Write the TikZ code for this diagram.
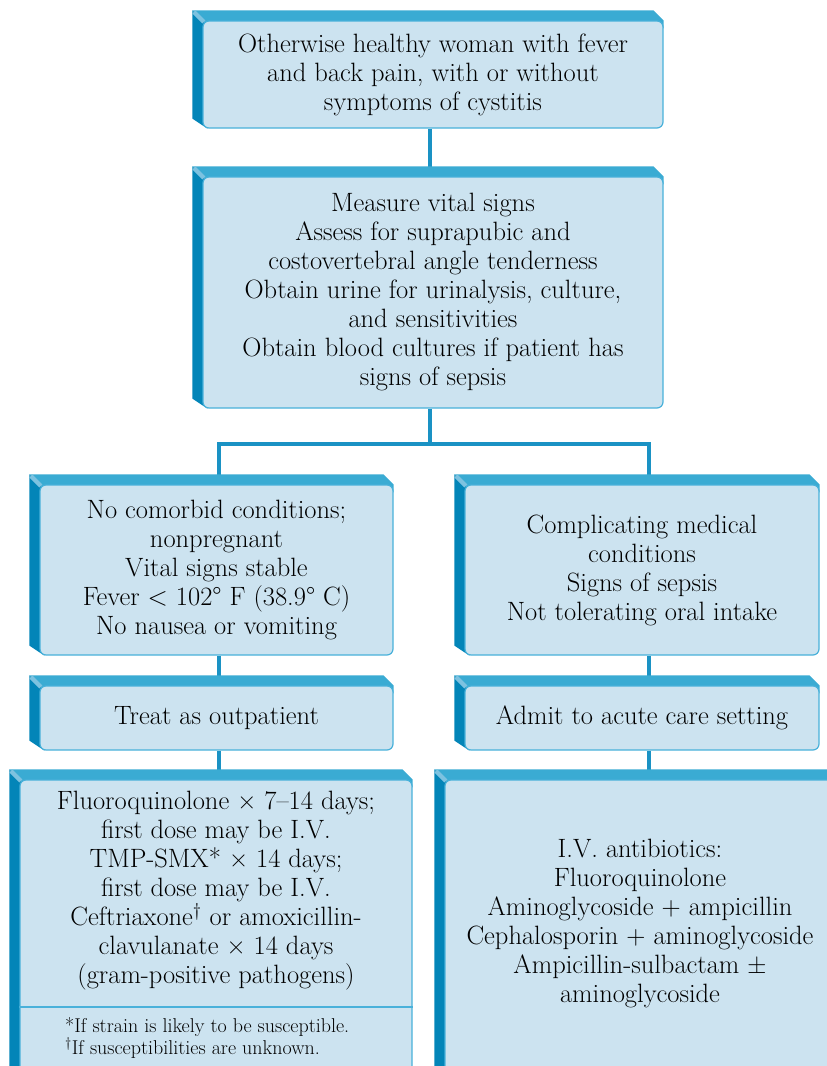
\documentclass[tikz,border=0pt]{standalone}
\usetikzlibrary{calc}
\definecolor{facec}{HTML}{CCE3F0}
\definecolor{edgec}{HTML}{49B1DA}
\definecolor{topc}{HTML}{3AABD3}
\definecolor{sidec}{HTML}{0385B8}
\definecolor{chamf}{HTML}{7DC2E0}
\definecolor{connc}{HTML}{1A92C4}
\pgfdeclarelayer{connlayer}
\pgfdeclarelayer{sidelayer}
\pgfsetlayers{connlayer,sidelayer,main}
\tikzset{
  facebox/.style={draw=edgec, line width=1.2pt, fill=facec, rounded corners=6pt,
    inner sep=0pt, align=center, font=\fontsize{26.5}{29}\selectfont},
  bodytext/.style={inner sep=0pt, align=center, font=\fontsize{26.5}{29}\selectfont},
  notetext/.style={inner sep=0pt, align=left, font=\fontsize{20}{22}\selectfont},
  conn/.style={draw=connc, line width=4pt},
}
\newcommand{\boxdeco}[1]{%
\begin{pgfonlayer}{sidelayer}
\fill[topc] ($(#1.north west)+(-10,-10)$) -- ($(#1.north east)+(-10,-10)$) -- (#1.north east) -- ($(#1.north east)+(0,8)$) -- ($(#1.north west)+(5,5)$) -- cycle;
\fill[sidec] ($(#1.north west)+(-10,-10)$) -- ($(#1.north west)+(5,5)$) -- ($(#1.south west)+(5,0)$) -- ($(#1.south west)+(-10,-10)$) -- cycle;
\fill[chamf] ($(#1.north west)+(-10,-7)$) -- ($(#1.north west)+(-7,-10)$) -- ($(#1.north west)+(3,0)$) -- ($(#1.north west)+(0,3)$) -- cycle;
\end{pgfonlayer}}
\begin{document}
\begin{tikzpicture}[x=1pt,y=-1pt]
\useasboundingbox (0,0) rectangle (827,1066);

\node[facebox, minimum width=460, minimum height=107] (b1) at (433,74.5)
  {Otherwise healthy woman with fever\\and back pain, with or without\\symptoms of cystitis};
\node[facebox, minimum width=460, minimum height=231] (b2) at (433,292.5)
  {Measure vital signs\\Assess for suprapubic and\\costovertebral angle tenderness\\Obtain urine for urinalysis, culture,\\and sensitivities\\Obtain blood cultures if patient has\\signs of sepsis};
\node[facebox, minimum width=353, minimum height=170] (b3l) at (216.5,570)
  {No comorbid conditions;\\nonpregnant\\Vital signs stable\\Fever < 102° F (38.9° C)\\No nausea or vomiting};
\node[facebox, minimum width=354, minimum height=170] (b3r) at (642,570)
  {Complicating medical\\conditions\\Signs of sepsis\\Not tolerating oral intake};
\node[facebox, minimum width=353, minimum height=64] (b4l) at (216.5,718)
  {Treat as outpatient};
\node[facebox, minimum width=354, minimum height=64] (b4r) at (642,718)
  {Admit to acute care setting};
\node[facebox, minimum width=392, minimum height=300] (b5l) at (216,930) {};
\node[facebox, minimum width=400, minimum height=300] (b5r) at (645,930) {};

\node[bodytext] (t5l) at (216,891)
  {Fluoroquinolone × 7–14 days;\\first dose may be I.V.\\TMP-SMX* × 14 days;\\first dose may be I.V.\\Ceftriaxone\textsuperscript{†} or amoxicillin-\\clavulanate × 14 days\\(gram-positive pathogens)};
\node[notetext, anchor=west] (fn) at (65,1038)
  {*If strain is likely to be susceptible.\\\textsuperscript{†}If susceptibilities are unknown.};
\node[bodytext] (t5r) at (640,923)
  {I.V. antibiotics:\\Fluoroquinolone\\Aminoglycoside + ampicillin\\Cephalosporin + aminoglycoside\\Ampicillin-sulbactam ±\\aminoglycoside};

\coordinate (dv) at (0,1007);
\draw[edgec, line width=1.2pt] (b5l.west |- dv) -- (b5l.east |- dv);

\boxdeco{b1}\boxdeco{b2}\boxdeco{b3l}\boxdeco{b3r}\boxdeco{b4l}\boxdeco{b4r}\boxdeco{b5l}\boxdeco{b5r}

\coordinate (j) at (430,444);
\coordinate (cl) at (219,444);
\coordinate (cr) at (649,444);
\begin{pgfonlayer}{connlayer}
\draw[conn] (b1.south -| j) -- (b2.north -| j);
\draw[conn] (b2.south -| j) -- (j);
\draw[conn] (b3l.north -| cl) -- (cl) -- (cr) -- (b3r.north -| cr);
\draw[conn] (b3l.south -| cl) -- (b4l.north -| cl);
\draw[conn] (b3r.south -| cr) -- (b4r.north -| cr);
\draw[conn] (b4l.south -| cl) -- (b5l.north -| cl);
\draw[conn] (b4r.south -| cr) -- (b5r.north -| cr);
\end{pgfonlayer}
\end{tikzpicture}
\end{document}
